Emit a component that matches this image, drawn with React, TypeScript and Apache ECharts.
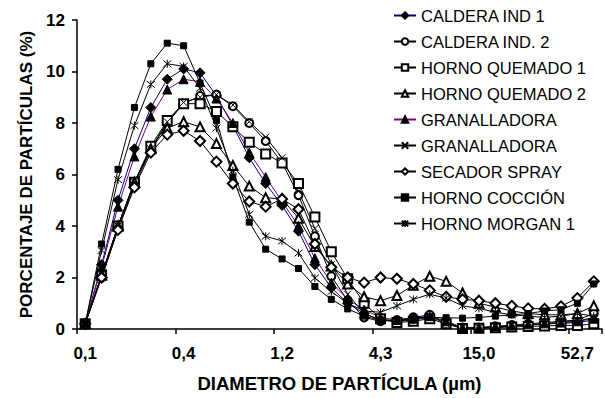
import React, { useEffect, useRef } from "react";
import * as echarts from "echarts";

const DIAMETERS = [
  "0.13", "0.16", "0.19", "0.23", "0.28", "0.33", "0.40", "0.48", "0.58", "0.69", "0.83", "1.00",
  "1.20", "1.48", "1.83", "2.27", "2.80", "3.47", "4.30", "5.30", "6.53", "8.04", "9.91", "12.20",
  "15.00", "18.50", "22.80", "28.10", "34.60", "42.70", "52.70", "65.00",
];

const CALDERA_IND_1 = [0.2, 2.5, 5.0, 7.0, 8.6, 9.7, 10.1, 9.95, 9.05, 7.9, 6.65, 5.65, 4.8, 3.8, 2.5, 1.6, 1.0, 0.6, 0.35, 0.3, 0.35, 0.45, 0.3, 0.05, 0.05, 0.08, 0.12, 0.15, 0.2, 0.22, 0.25, 0.35];
const CALDERA_IND_2 = [0.2, 2.0, 3.9, 5.6, 6.95, 8.0, 8.75, 9.05, 9.1, 8.65, 8.0, 7.3, 6.45, 5.2, 3.6, 2.05, 1.1, 0.45, 0.3, 0.35, 0.45, 0.55, 0.25, 0.05, 0.05, 0.1, 0.15, 0.2, 0.25, 0.3, 0.35, 0.6];
const HORNO_QUEMADO_1 = [0.2, 2.1, 4.0, 5.7, 7.1, 8.1, 8.75, 8.75, 8.45, 7.85, 7.25, 6.8, 6.45, 5.65, 4.35, 3.0, 1.95, 1.0, 0.4, 0.25, 0.3, 0.4, 0.2, 0.02, 0.03, 0.05, 0.08, 0.1, 0.12, 0.14, 0.14, 0.2];
const HORNO_QUEMADO_2 = [0.2, 2.1, 4.0, 5.7, 7.0, 7.8, 8.05, 7.85, 7.2, 6.35, 5.55, 5.1, 5.05, 4.3, 3.2, 2.45, 1.75, 1.25, 1.1, 1.3, 1.7, 2.05, 1.85, 1.4, 1.0, 0.85, 0.7, 0.6, 0.55, 0.55, 0.6, 0.9];
const GRANALLADORA_A = [0.2, 2.4, 4.75, 6.7, 8.25, 9.3, 9.7, 9.6, 8.95, 8.0, 6.85, 5.9, 4.95, 4.0, 2.75, 1.8, 1.15, 0.75, 0.45, 0.35, 0.4, 0.5, 0.3, 0.06, 0.06, 0.1, 0.14, 0.18, 0.22, 0.25, 0.3, 0.4];
const GRANALLADORA_B = [0.2, 2.1, 4.0, 5.7, 7.0, 8.05, 8.8, 9.0, 9.1, 8.7, 8.05, 7.45, 6.65, 5.35, 3.9, 2.5, 1.35, 0.6, 0.35, 0.3, 0.4, 0.5, 0.2, 0.05, 0.05, 0.08, 0.12, 0.16, 0.2, 0.25, 0.3, 0.45];
const SECADOR_SPRAY = [0.2, 2.0, 3.85, 5.5, 6.85, 7.55, 7.7, 7.3, 6.5, 5.65, 4.95, 4.75, 5.05, 4.65, 3.3, 2.4, 2.0, 1.8, 2.0, 1.95, 1.75, 1.5, 1.25, 1.15, 1.1, 1.0, 0.9, 0.8, 0.78, 0.88, 1.2, 1.85];
const HORNO_COCCION = [0.2, 3.3, 6.2, 8.6, 10.3, 11.1, 11.0, 9.55, 8.1, 5.9, 4.15, 3.1, 2.72, 2.35, 1.65, 1.15, 0.78, 0.5, 0.35, 0.35, 0.42, 0.45, 0.44, 0.42, 0.45, 0.5, 0.55, 0.6, 0.7, 0.75, 1.0, 1.75];
const HORNO_MORGAN_1 = [0.2, 3.05, 5.8, 7.9, 9.5, 10.3, 10.2, 9.35, 7.8, 6.15, 4.45, 3.6, 3.42, 2.95, 1.98, 1.45, 1.0, 0.7, 0.65, 0.9, 1.15, 1.35, 1.2, 0.9, 0.8, 0.65, 0.55, 0.5, 0.45, 0.5, 0.6, 0.5];

const Y_TICKS = { min: 0, max: 12, interval: 2 };

const FONT = "'Liberation Sans', Arial, sans-serif";
const CROSS = "path://M0,0L10,10M10,0L0,10";
const ASTERISK = "path://M0,0L10,10M10,0L0,10M5,-1L5,11";

export default function App() {
  const ref = useRef<HTMLDivElement>(null);

  useEffect(() => {
    if (!ref.current) return;
    const chart = echarts.init(ref.current, null, { renderer: "svg" });

    const mk = (
      name: string,
      data: number[],
      symbol: string,
      size: number,
      lineColor: string,
      fill: string
    ) => ({
      name,
      type: "line",
      data,
      symbol,
      symbolSize: size,
      showSymbol: true,
      lineStyle: { color: lineColor, width: 1 },
      itemStyle: { color: fill, borderColor: "#000", borderWidth: 1 },
      z: 2,
    });

    chart.setOption({
      animation: false,
      backgroundColor: "#fff",
      textStyle: { fontFamily: FONT },
      grid: { left: 77, top: 20, right: 3, bottom: 66.5, containLabel: false },
      legend: {
        orient: "vertical",
        left: 388,
        top: 2,
        itemWidth: 22,
        itemHeight: 8,
        itemGap: 9,
        textStyle: { fontFamily: FONT, fontSize: 16.5, color: "#000" },
        data: [
          "CALDERA IND 1",
          "CALDERA IND. 2",
          "HORNO QUEMADO 1",
          "HORNO QUEMADO 2",
          "GRANALLADORA",
          "GRANALLADORA ",
          "SECADOR SPRAY",
          "HORNO COCCIÓN",
          "HORNO MORGAN 1",
        ],
      },
      xAxis: {
        type: "category",
        data: DIAMETERS,
        boundaryGap: true,
        name: "DIAMETRO DE PARTÍCULA (µm)",
        nameLocation: "middle",
        nameGap: 45,
        nameTextStyle: { fontFamily: FONT, fontSize: 18.5, fontWeight: "bold", color: "#000" },
        axisLine: { lineStyle: { color: "#000", width: 1.5 } },
        axisTick: { show: true, interval: 5, length: 5, lineStyle: { color: "#000", width: 1.5 } },
        axisLabel: {
          interval: 5,
          margin: 16,
          fontFamily: FONT,
          fontSize: 17,
          fontWeight: "bold",
          color: "#000",
          formatter: (v: string) => Number(v).toFixed(1).replace(".", ","),
        },
        splitLine: { show: false },
      },
      yAxis: {
        type: "value",
        min: Y_TICKS.min,
        max: Y_TICKS.max,
        interval: Y_TICKS.interval,
        name: "PORCENTAJE DE PARTÍCULAS (%)",
        nameLocation: "middle",
        nameGap: 42,
        nameTextStyle: { fontFamily: FONT, fontSize: 17, fontWeight: "bold", color: "#000" },
        axisLine: { show: true, lineStyle: { color: "#000", width: 1.5 } },
        axisTick: { show: true, length: 5, lineStyle: { color: "#000", width: 1.5 } },
        axisLabel: { margin: 12, fontFamily: FONT, fontSize: 17, fontWeight: "bold", color: "#000" },
        splitLine: { show: false },
      },
      series: [
        mk("CALDERA IND 1", CALDERA_IND_1, "diamond", 10, "#000080", "#000"),
        mk("CALDERA IND. 2", CALDERA_IND_2, "emptyCircle", 8, "#000", "#000"),
        mk("HORNO QUEMADO 1", HORNO_QUEMADO_1, "emptyRect", 9, "#000", "#000"),
        mk("HORNO QUEMADO 2", HORNO_QUEMADO_2, "emptyTriangle", 9, "#000", "#000"),
        mk("GRANALLADORA", GRANALLADORA_A, "triangle", 9, "#800080", "#000"),
        mk("GRANALLADORA ", GRANALLADORA_B, CROSS, 7, "#000", "#000"),
        mk("SECADOR SPRAY", SECADOR_SPRAY, "emptyDiamond", 10, "#000", "#000"),
        mk("HORNO COCCIÓN", HORNO_COCCION, "rect", 6, "#000", "#000"),
        mk("HORNO MORGAN 1", HORNO_MORGAN_1, ASTERISK, 8, "#000", "#000"),
      ],
    });

    return () => chart.dispose();
  }, []);

  return (
    <div
      ref={ref}
      style={{ position: "fixed", left: 0, top: 0, width: 605, height: 398, background: "#fff" }}
    />
  );
}
